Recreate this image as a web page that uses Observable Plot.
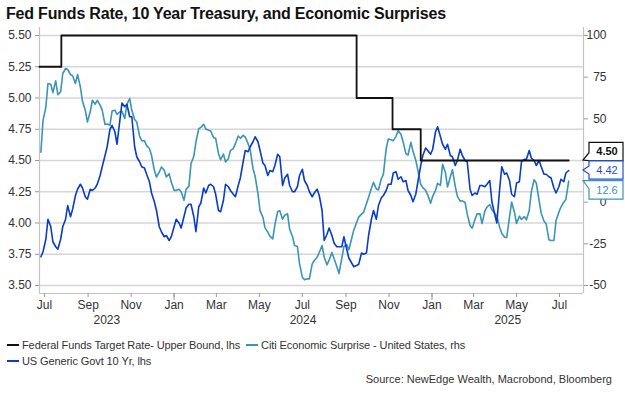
<!DOCTYPE html>
<html><head><meta charset="utf-8">
<script src="https://cdn.jsdelivr.net/npm/d3@7"></script>
<script src="https://cdn.jsdelivr.net/npm/@observablehq/plot@0.6"></script>
<style>
body{margin:0;background:#fff;font-family:"Liberation Sans",Arial,sans-serif;}
#wrap{position:relative;width:625px;height:393px;overflow:hidden;background:#fff;}
#title{position:absolute;left:6px;top:5px;font-weight:bold;font-size:16px;color:#111;letter-spacing:-0.2px;white-space:nowrap;}
#chart{position:absolute;left:0;top:0;}
.leg{position:absolute;left:7px;font-size:11px;color:#333;white-space:nowrap;display:flex;align-items:center;letter-spacing:-0.1px;}
.sw{display:inline-block;width:12px;height:2px;margin-right:3px;}
#source{position:absolute;right:13px;top:373px;font-size:11px;color:#333;white-space:nowrap;}
</style></head><body>
<div id="wrap">
<div id="chart"></div>
<div id="title">Fed Funds Rate, 10 Year Treasury, and Economic Surprises</div>
<div id="legend"></div>
<div id="source">Source: NewEdge Wealth, Macrobond, Bloomberg</div>
</div>
<script>
// ---- data ----
const seriesNames = ["Federal Funds Target Rate- Upper Bound, lhs", "Citi Economic Surprise - United States, rhs", "US Generic Govt 10 Yr, lhs"];
const seriesColors = ["#111111", "#3a95b6", "#0a3cc8"];

const fedDates = ["2023-06-24", "2023-07-25", "2024-09-16", "2024-11-06", "2024-12-16", "2025-07-14"];
const fedRate = [5.25, 5.50, 5.00, 4.75, 4.50, 4.50];

// observations every Monday and Thursday, 2023-06-26 .. 2025-07-14
const obsStart = "2023-06-26", obsEnd = "2025-07-15";
const us10y = [
  3.73,3.77, 3.87,4.03, 3.97,3.85, 3.81,3.79, 3.87,3.97, 4.03,4.14, 4.05,4.11, 4.22,4.27, 4.31,4.28, 4.21,4.19,
  4.27,4.26, 4.28,4.31, 4.38,4.45, 4.54,4.61, 4.75,4.78, 4.73,4.63, 4.82,4.96, 4.93,4.95, 4.85,4.85, 4.61,4.53,
  4.49,4.45, 4.44,4.39, 4.33,4.24, 4.17,4.10, 3.97,3.93, 3.89,3.90, 3.86,3.89, 3.97,4.03, 4.00,3.96, 4.05,4.12,
  4.15,4.15, 4.05,3.93, 4.13,4.16, 4.28,4.24, 4.30,4.31, 4.29,4.23, 4.10,4.09, 4.18,4.31, 4.29,4.26, 4.23,4.21,
  4.30,4.36, 4.49,4.58, 4.57,4.61, 4.65,4.69, 4.65,4.58, 4.48,4.46, 4.38,4.42, 4.41,4.46, 4.55,4.53, 4.30,4.36,
  4.39,4.30, 4.25,4.25, 4.29,4.38, 4.43,4.34, 4.30,4.25, 4.21,4.24, 4.27,4.22, 4.10,3.86, 3.91,3.96, 3.90,3.84,
  3.81,3.81, 3.81,3.89, 3.79,3.72, 3.68,3.65, 3.66,3.67, 3.76,3.75, 3.76,3.90, 4.03,4.10, 4.03,4.14, 4.20,4.22,
  4.26,4.31, 4.31,4.40, 4.41,4.35, 4.37,4.33, 4.34,4.26, 4.22,4.17, 4.23,4.33, 4.46,4.54, 4.60,4.58, 4.55,4.59,
  4.73,4.77, 4.69,4.63, 4.59,4.63, 4.54,4.53, 4.46,4.50, 4.59,4.54, 4.50,4.49, 4.27,4.22, 4.24,4.23, 4.30,4.30,
  4.29,4.31, 4.34,4.17, 4.07,4.00, 4.27,4.45, 4.39,4.40, 4.34,4.23, 4.21,4.32, 4.33,4.49, 4.51,4.51, 4.58,4.52,
  4.50,4.46, 4.50,4.45, 4.39,4.39, 4.37,4.36, 4.28,4.24, 4.29,4.35, 4.33,4.40, 4.42
];
const citiSurprise = [
  30,49.1, 56.8,71.2, 70.8,65.7, 72.8,64.5, 66.2,77.2, 80.2,79.6, 76.6,75.8, 71.2,76.6, 69.2,60.5, 55.2,48.1,
  54.2,61.1, 58.8,61.1, 58.2,55.1, 46.6,46.9, 46.2,54.7, 55.2,52.7, 54.2,54.5, 50.2,58.7, 62.2,55.1, 49.6,48.1,
  39.6,36.9, 36.8,33.9, 32.2,28.1, 19.1,15.1, 18.1,21.1, 19.1,15.1, 17.1,12.1, 7.1,7.1, 7.7,6.3, 1.1,7.7,
  9.5,23.1, 27.5,36.1, 44.1,44.9, 46.7,43.9, 43.1,42.7, 38.7,38.3, 29.1,25.5, 28.9,24.1, 26.1,31.1, 32.1,35.1,
  39.7,38.3, 40.1,39.1, 35.1,31.5, 20.1,15.5, 5.1,-5.2, -9.0,-15.4, -18.0,-20.4, -22.0,-13.8, -5.6,-5.2, -10.2,-7.8,
  -7.0,-16.2, -20.6,-26.0, -26.6,-37.0, -45.0,-46.6, -46.0,-46.0, -37.0,-35.0, -33.0,-30.2, -26.0,-33.0, -37.6,-34.8, -30.2,-33.8,
  -38.8,-42.8, -33.8,-26.6, -25.4,-28.6, -21.8,-16.8, -12.2,-9.0, -7.2,-6.0, -1.0,2.9, 8.3,11.9, 7.9,7.3, 13.9,16.7,
  32.1,37.9, 37.5,36.9, 39.5,42.9, 40.7,36.1, 29.1,28.3, 35.9,30.7, 25.1,19.1, 10.7,8.7, 7.1,4.3, -0.6,3.5,
  7.1,11.3, 10.1,22.7, 18.0,9.1, 15.1,19.5, 9.5,3.5, 0.6,0.8, -0.2,-7.2, -14.0,-15.6, -10.4,-7.0, -7.0,-12.8,
  -5.4,-3.0, -1.4,-4.6, -6.6,-8.4, -15.0,-18.6, -21.0,-21.2, -9.0,0.0, -6.0,-12.8, -8.4,-10.4, -8.6,-10.6, -5.0,6.3,
  13.5,11.5, 1.0,-6.6, -11.4,-13.0, -22.6,-23.0, -23.0,-11.2, -6.0,-3.0, 0.0,1.6, 12.6
];

const leftTicks = [3.50, 3.75, 4.00, 4.25, 4.50, 4.75, 5.00, 5.25, 5.50];
const rightTicks = [-50, -25, 0, 25, 50, 75, 100];
const rightHidden = [25]; // covered by the value callouts in the original
const yearLabels = ["2023", "2024", "2025"];
const domainStart = "2023-06-24", domainEnd = "2025-08-04";

// ---- build ----
const toLeft = r => 3.5 + (r + 50) / 75;      // rhs -> lhs equivalent
const fromLeft = v => (v - 3.5) * 75 - 50;

const obsDates = d3.utcDay.range(new Date(obsStart), new Date(obsEnd)).filter(d => d.getUTCDay() === 1 || d.getUTCDay() === 4);
const blueData = us10y.map((v, i) => ({date: obsDates[i], v}));
const tealData = citiSurprise.map((r, i) => ({date: obsDates[i], v: toLeft(r)}));
const fedData = fedDates.map((d, i) => ({date: new Date(d), v: fedRate[i]}));

const x0 = new Date(domainStart), x1 = new Date(domainEnd);
const monthTicks = d3.utcMonth.every(2).range(x0, x1);
const janTicks = d3.utcYear.range(x0, x1);
const yb = [x0, ...janTicks, x1];
const yearMids = yb.slice(0, -1).map((d, i) => new Date((+d + +yb[i + 1]) / 2));

const yMin = 3.436, yMax = 5.564;

const plot = Plot.plot({
  width: 625, height: 335,
  marginTop: 27, marginBottom: 42, marginLeft: 39, marginRight: 42,
  style: {fontFamily: "'Liberation Sans', Arial, sans-serif", fontSize: "12px", color: "#333", background: "transparent"},
  x: {type: "utc", domain: [x0, x1]},
  y: {domain: [yMin, yMax]},
  marks: [
    Plot.ruleY(leftTicks, {stroke: "#d6d6d6", strokeWidth: 1.5}),
    Plot.ruleX([x0, x1], {stroke: "#c4c4c4", strokeWidth: 1.2}),
    Plot.ruleY([yMin], {stroke: "#c4c4c4", strokeWidth: 1.2}),
    Plot.axisY(leftTicks, {anchor: "left", tickSize: 4, tickPadding: 4, tickFormat: d => d.toFixed(2), stroke: "#999", fill: "#333", label: null}),
    Plot.axisY(rightTicks.map(toLeft), {anchor: "right", tickSize: 4, tickPadding: 19, textAnchor: "end",
      tickFormat: d => { const r = Math.round(fromLeft(d)); return rightHidden.includes(r) ? "" : String(r); },
      stroke: "#999", fill: "#333", label: null}),
    Plot.axisX(monthTicks, {anchor: "bottom", tickSize: 4, tickPadding: 3, tickFormat: d3.utcFormat("%b"), stroke: "#999", fill: "#333", label: null}),
    Plot.axisX(janTicks, {anchor: "bottom", tickSize: 7, tickFormat: () => "", stroke: "#999", label: null}),
    Plot.axisX(yearMids, {anchor: "bottom", tickSize: 0, tickPadding: 22, tickFormat: (d) => yearLabels[yearMids.findIndex(m => +m === +d)], fill: "#333", label: null}),
    Plot.line(tealData, {x: "date", y: "v", stroke: seriesColors[1], strokeWidth: 1.6}),
    Plot.line(blueData, {x: "date", y: "v", stroke: seriesColors[2], strokeWidth: 1.6}),
    Plot.line(fedData, {x: "date", y: "v", curve: "step-after", stroke: seriesColors[0], strokeWidth: 1.8})
  ]
});
document.getElementById("chart").appendChild(plot);

// value callouts on the right axis
const ys = plot.scale("y");
const svg = d3.select(plot);
const callouts = [
  {v: fedRate[fedRate.length - 1], text: fedRate[fedRate.length - 1].toFixed(2), color: seriesColors[0], bold: true, shift: -8.5},
  {v: us10y[us10y.length - 1], text: us10y[us10y.length - 1].toFixed(2), color: "#1f4fd0", bold: false, shift: 0},
  {v: toLeft(citiSurprise[citiSurprise.length - 1]), text: citiSurprise[citiSurprise.length - 1].toFixed(1), color: seriesColors[1], bold: false, shift: 9.2}
];
const bx0 = 589, bx1 = 623, tipX = 583, bh = 18.4;
for (const c of callouts) {
  const ty = ys.apply(c.v);
  const cy = ty + c.shift;
  const top = cy - bh / 2, bot = cy + bh / 2;
  const nc = Math.max(top + 4, Math.min(bot - 4, ty));
  const path = `M${bx0},${top}H${bx1}V${bot}H${bx0}V${nc + 4}L${tipX},${ty}L${bx0},${nc - 4}Z`;
  svg.append("path").attr("d", path).attr("fill", "#fff").attr("stroke", c.color).attr("stroke-width", 1.2);
  svg.append("text").attr("x", (bx0 + bx1) / 2 + 1).attr("y", cy).attr("dy", "0.35em")
    .attr("text-anchor", "middle").attr("fill", c.color).attr("font-size", 11)
    .attr("font-weight", c.bold ? "bold" : "normal").text(c.text);
}

// legend
const legend = document.getElementById("legend");
const rows = [[0, 1], [2]];
rows.forEach((row, ri) => {
  const div = document.createElement("div");
  div.className = "leg";
  div.style.top = (339 + ri * 16) + "px";
  row.forEach((k, j) => {
    const sw = document.createElement("span");
    sw.className = "sw";
    sw.style.background = seriesColors[k];
    if (j > 0) sw.style.marginLeft = "6px";
    div.appendChild(sw);
    div.appendChild(document.createTextNode(seriesNames[k]));
  });
  legend.appendChild(div);
});
</script>
</body></html>
